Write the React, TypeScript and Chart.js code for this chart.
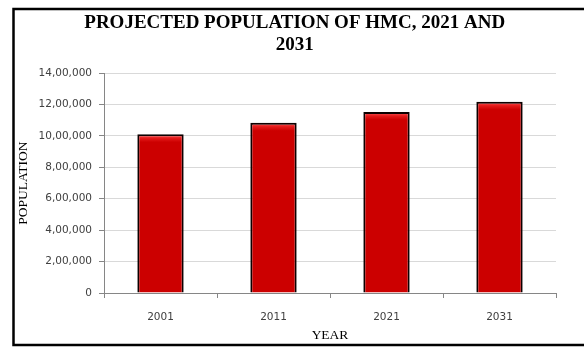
import React, { useEffect, useRef } from "react";
import { Chart, registerables } from "chart.js";

Chart.register(...registerables);

const categories = ["2001", "2011", "2021", "2031"];
const populationValues = [1011000, 1084000, 1152000, 1218000];
const titleLines = ["PROJECTED POPULATION OF HMC, 2021 AND", "2031"];
const yAxisTitle = "POPULATION";
const xAxisTitle = "YEAR";
const yMax = 1400000;
const yStep = 200000;

function indianFormat(v: number): string {
  const s = Math.round(v).toString();
  if (s.length <= 3) return s;
  const last3 = s.slice(-3);
  let rest = s.slice(0, -3);
  const parts: string[] = [];
  while (rest.length > 2) {
    parts.unshift(rest.slice(-2));
    rest = rest.slice(0, -2);
  }
  if (rest.length) parts.unshift(rest);
  return parts.join(",") + "," + last3;
}

const framePlugin = {
  id: "frame",
  beforeDraw(chart: any) {
    const ctx = chart.ctx;
    ctx.save();
    ctx.fillStyle = "#ffffff";
    ctx.fillRect(0, 0, chart.width, chart.height);
    ctx.restore();
  },
  afterDraw(chart: any) {
    const ctx = chart.ctx;
    ctx.save();
    ctx.strokeStyle = "#000000";
    ctx.lineWidth = 2.5;
    ctx.beginPath();
    ctx.moveTo(chart.width + 5, 9);
    ctx.lineTo(13.5, 9);
    ctx.lineTo(13.5, 345);
    ctx.lineTo(chart.width + 5, 345);
    ctx.stroke();
    ctx.restore();
  },
};

function barFill(c: any) {
  const chart = c.chart;
  const yScale = chart.scales && chart.scales.y;
  if (!yScale || !c.parsed || !chart.chartArea) return "#CC0000";
  const top = yScale.getPixelForValue(c.parsed.y);
  if (!Number.isFinite(top)) return "#CC0000";
  const g = chart.ctx.createLinearGradient(0, top, 0, top + 8);
  g.addColorStop(0, "#ff6060");
  g.addColorStop(0.5, "#e41a1a");
  g.addColorStop(1, "#cc0000");
  return g;
}

export default function App() {
  const ref = useRef<HTMLCanvasElement>(null);

  useEffect(() => {
    if (!ref.current) return;
    const chart = new Chart(ref.current, {
      type: "bar",
      data: {
        labels: categories,
        datasets: [
          {
            label: "Population",
            data: populationValues,
            backgroundColor: barFill,
            borderColor: "#0d0000",
            borderWidth: 2,
            categoryPercentage: 1,
            barPercentage: 0.41,
          },
        ],
      },
      plugins: [framePlugin],
      options: {
        responsive: false,
        animation: false,
        layout: { padding: { left: 5.4, right: 0, top: 0, bottom: 0 } },
        plugins: {
          legend: { display: false },
          tooltip: { enabled: false },
          title: {
            display: true,
            text: titleLines,
            color: "#000000",
            font: { family: "'Liberation Serif', 'Times New Roman', serif", size: 19, weight: "bold", lineHeight: 1.16 },
            padding: { top: 12, bottom: 17 },
          },
        },
        scales: {
          x: {
            type: "category",
            grid: {
              offset: true,
              color: (c: any) => (c.index === categories.length ? "#868686" : "rgba(0,0,0,0)"),
              tickColor: "#868686",
              tickLength: 5,
              lineWidth: 1,
            },
            border: { color: "#868686" },
            ticks: {
              color: "#404040",
              font: { family: "'DejaVu Sans', sans-serif", size: 10.5 },
              padding: 13,
            },
            title: {
              display: true,
              text: xAxisTitle,
              color: "#000000",
              font: { family: "'Liberation Serif', 'Times New Roman', serif", size: 13.5 },
              padding: { top: 0, bottom: 3 },
            },
            afterFit(s: any) {
              s.height = 54;
            },
          },
          y: {
            type: "linear",
            min: 0,
            max: yMax,
            grid: {
              color: "#d9d9d9",
              tickColor: "#868686",
              tickLength: 5,
            },
            border: { color: "#868686" },
            ticks: {
              stepSize: yStep,
              color: "#404040",
              font: { family: "'DejaVu Sans', sans-serif", size: 10.5 },
              padding: 7,
              callback: (v: any) => indianFormat(Number(v)),
            },
            title: {
              display: true,
              text: yAxisTitle,
              color: "#000000",
              font: { family: "'Liberation Serif', 'Times New Roman', serif", size: 13.5 },
              padding: { top: 10, bottom: 10 },
            },
            afterFit(s: any) {
              s.width = 98.6;
            },
          },
          yRight: {
            type: "linear",
            position: "right",
            display: true,
            grid: { display: false },
            border: { display: false },
            ticks: { display: false },
            afterFit(s: any) {
              s.width = 28;
            },
          },
        },
      },
    });
    return () => chart.destroy();
  }, []);

  return (
    <div style={{ position: "absolute", left: 0, top: 0, width: 584, height: 347 }}>
      <canvas ref={ref} width={584} height={347} />
    </div>
  );
}
